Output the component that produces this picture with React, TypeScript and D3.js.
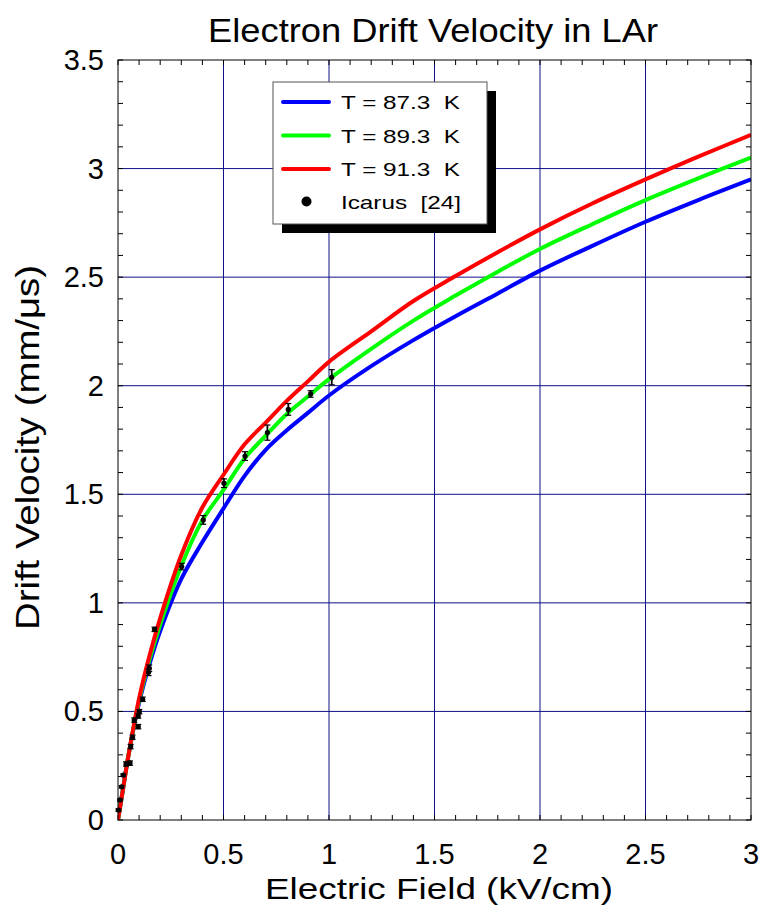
import React from "react";
import * as d3 from "d3";

const fieldGrid = [0, 0.02, 0.05, 0.1, 0.15, 0.2, 0.3, 0.4, 0.5, 0.6, 0.7, 0.8, 0.9, 1.0, 1.2, 1.4, 1.6, 1.8, 2.0, 2.25, 2.5, 2.75, 3.0];
const vel873 = [0, 0.12, 0.3, 0.54, 0.72, 0.87, 1.11, 1.28, 1.435, 1.585, 1.705, 1.795, 1.875, 1.955, 2.09, 2.21, 2.32, 2.425, 2.53, 2.645, 2.755, 2.855, 2.95];
const vel893 = [0, 0.12, 0.3, 0.55, 0.74, 0.9, 1.17, 1.38, 1.52, 1.665, 1.77, 1.87, 1.95, 2.03, 2.17, 2.3, 2.415, 2.525, 2.63, 2.745, 2.855, 2.955, 3.05];
const vel913 = [0, 0.12, 0.3, 0.56, 0.76, 0.93, 1.22, 1.44, 1.59, 1.73, 1.83, 1.93, 2.02, 2.11, 2.25, 2.39, 2.505, 2.615, 2.72, 2.84, 2.95, 3.055, 3.155];

const icarusE = [0.002, 0.0095, 0.017, 0.025, 0.038, 0.057, 0.06, 0.069, 0.077, 0.096, 0.096, 0.101, 0.117, 0.145, 0.148, 0.173, 0.302, 0.404, 0.502, 0.602, 0.708, 0.807, 0.913, 1.013];
const icarusV = [0.046, 0.092, 0.153, 0.207, 0.258, 0.262, 0.338, 0.381, 0.46, 0.43, 0.479, 0.499, 0.556, 0.68, 0.699, 0.878, 1.167, 1.382, 1.551, 1.676, 1.784, 1.891, 1.962, 2.039];
const icarusErr = [0.005, 0.005, 0.005, 0.005, 0.01, 0.01, 0.01, 0.01, 0.01, 0.01, 0.01, 0.01, 0.01, 0.015, 0.015, 0.01, 0.015, 0.02, 0.02, 0.02, 0.035, 0.027, 0.015, 0.035];

const xTicks = [0, 0.5, 1, 1.5, 2, 2.5, 3];
const yTicks = [0, 0.5, 1, 1.5, 2, 2.5, 3, 3.5];

const seriesLabels = ["T = 87.3  K", "T = 89.3  K", "T = 91.3  K"];
const seriesColors = ["#0000ff", "#00ff00", "#ff0000"];
const seriesValues = [vel873, vel893, vel913];

const W = 763;
const H = 907;
const L = 118, R = 751, T = 60, B = 820;
const FONT = "'Liberation Sans', Arial, sans-serif";
const GRID = "#10108a";

export default function App() {
  const x = d3.scaleLinear().domain([0, 3]).range([L, R]);
  const y = d3.scaleLinear().domain([0, 3.5]).range([B, T]);
  const line = d3
    .line<[number, number]>()
    .x((d) => x(d[0]))
    .y((d) => y(d[1]))
    .curve(d3.curveCatmullRom.alpha(0.5));

  const minorX = d3.range(0, 31).map((i) => i / 10);
  const minorY = d3.range(0, 36).map((i) => i / 10);

  const legX = 273, legY = 82, legW = 214, legH = 142;

  return (
    <svg width={W} height={H} style={{ position: "absolute", left: 0, top: 0, background: "#fff" }} fontFamily={FONT}>
      <rect x={0} y={0} width={W} height={H} fill="#fff" />
      <defs>
        <clipPath id="clip">
          <rect x={L} y={T} width={R - L} height={B - T} />
        </clipPath>
      </defs>
      {xTicks.slice(1, -1).map((t) => (
        <line key={"gx" + t} x1={x(t)} x2={x(t)} y1={T} y2={B} stroke={GRID} strokeWidth={1} />
      ))}
      {yTicks.slice(1, -1).map((t) => (
        <line key={"gy" + t} x1={L} x2={R} y1={y(t)} y2={y(t)} stroke={GRID} strokeWidth={1} />
      ))}
      {minorX.map((t, i) => (
        <g key={"mx" + i}>
          <line x1={x(t)} x2={x(t)} y1={B} y2={B - 5} stroke="#000" strokeWidth={1} />
          <line x1={x(t)} x2={x(t)} y1={T} y2={T + 5} stroke="#000" strokeWidth={1} />
        </g>
      ))}
      {minorY.map((t, i) => (
        <g key={"my" + i}>
          <line x1={L} x2={L + 5} y1={y(t)} y2={y(t)} stroke="#000" strokeWidth={1} />
          <line x1={R} x2={R - 5} y1={y(t)} y2={y(t)} stroke="#000" strokeWidth={1} />
        </g>
      ))}
      <g clipPath="url(#clip)">
        {seriesValues.map((vals, si) => (
          <path
            key={"s" + si}
            d={line(fieldGrid.map((e, i) => [e, vals[i]] as [number, number])) || ""}
            fill="none"
            stroke={seriesColors[si]}
            strokeWidth={4}
            strokeLinejoin="round"
          />
        ))}
      </g>
      {icarusE.map((e, i) => {
        const cx = x(e);
        const cy = y(icarusV[i]);
        const top = y(icarusV[i] + icarusErr[i]);
        const bot = y(icarusV[i] - icarusErr[i]);
        return (
          <g key={"p" + i}>
            <line x1={cx} x2={cx} y1={top} y2={bot} stroke="#000" strokeWidth={1.8} />
            <line x1={cx - 3} x2={cx + 3} y1={top} y2={top} stroke="#000" strokeWidth={1.2} />
            <line x1={cx - 3} x2={cx + 3} y1={bot} y2={bot} stroke="#000" strokeWidth={1.2} />
            <circle cx={cx} cy={cy} r={2.6} fill="#000" />
          </g>
        );
      })}
      <rect x={L} y={T} width={R - L} height={B - T} fill="none" stroke="#000" strokeWidth={1} />
      {xTicks.map((t) => (
        <text key={"xt" + t} x={x(t)} y={864} textAnchor="middle" fontSize={29} fill="#000">
          {String(t)}
        </text>
      ))}
      {yTicks.map((t) => (
        <text key={"yt" + t} x={104} y={y(t) + 10} textAnchor="end" fontSize={29} fill="#000">
          {String(t)}
        </text>
      ))}
      <text x={208} y={42} fontSize={33} fill="#000" textLength={450} lengthAdjust="spacingAndGlyphs">
        Electron Drift Velocity in LAr
      </text>
      <text x={265} y={899} fontSize={29} fill="#000" textLength={348} lengthAdjust="spacingAndGlyphs">
        Electric Field (kV/cm)
      </text>
      <text
        transform={`translate(38.5,630) rotate(-90)`}
        fontSize={33}
        fill="#000"
        textLength={365}
        lengthAdjust="spacingAndGlyphs"
      >
        Drift Velocity (mm/μs)
      </text>
      <rect x={legX + 9} y={legY + 9} width={legW} height={legH} fill="#000" />
      <rect x={legX} y={legY} width={legW} height={legH} fill="#fff" stroke="#555" strokeWidth={1} />
      {seriesLabels.map((lab, i) => (
        <g key={"l" + i}>
          <line x1={283} x2={329} y1={102 + i * 33.5} y2={102 + i * 33.5} stroke={seriesColors[i]} strokeWidth={4} strokeLinecap="round" />
          <text x={341} y={102 + i * 33.5 + 7} fontSize={19} fill="#000" textLength={119} lengthAdjust="spacingAndGlyphs" style={{ whiteSpace: "pre" }}>
            {lab}
          </text>
        </g>
      ))}
      <circle cx={306.5} cy={201.5} r={5} fill="#000" />
      <text x={341} y={208.5} fontSize={19} fill="#000" textLength={120} lengthAdjust="spacingAndGlyphs" style={{ whiteSpace: "pre" }}>
        {"Icarus  [24]"}
      </text>
    </svg>
  );
}
